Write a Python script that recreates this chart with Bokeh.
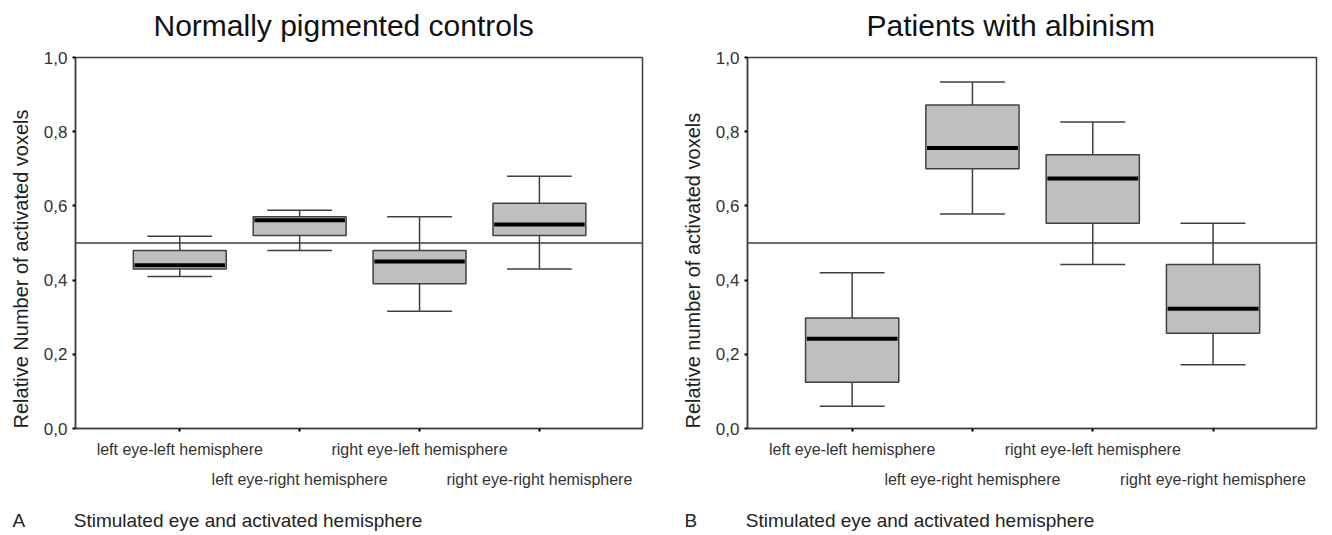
from bokeh.plotting import figure
from bokeh.models import Span, FixedTicker, Title
from bokeh.layouts import row
from bokeh.embed import file_html
from bokeh.resources import INLINE

# ---- data ----
categories = ["left eye-left hemisphere", "left eye-right hemisphere",
              "right eye-left hemisphere", "right eye-right hemisphere"]
positions = [1, 2, 3, 4]
yticks = [0.0, 0.2, 0.4, 0.6, 0.8, 1.0]
ytick_labels = ["0,0", "0,2", "0,4", "0,6", "0,8", "1,0"]

# Normally pigmented controls
ctrl_lower = [0.41, 0.48, 0.316, 0.43]
ctrl_q1 = [0.43, 0.52, 0.39, 0.52]
ctrl_median = [0.44, 0.561, 0.45, 0.55]
ctrl_q3 = [0.48, 0.571, 0.48, 0.607]
ctrl_upper = [0.518, 0.588, 0.571, 0.68]

# Patients with albinism
alb_lower = [0.06, 0.578, 0.442, 0.172]
alb_q1 = [0.125, 0.70, 0.553, 0.257]
alb_median = [0.242, 0.756, 0.674, 0.323]
alb_q3 = [0.298, 0.872, 0.738, 0.442]
alb_upper = [0.42, 0.934, 0.826, 0.553]

reference_level = 0.5

FONT = "Liberation Sans"
EDGE = "#404040"
FILL = "#bfbfbf"
BOX_W = 0.775
CAP_W = 0.54
GAP = "\u2003\u2003\u00a0\u00a0"


def make_panel(title, ylabel, letter, lower, q1, med, q3, upper,
               width, border_left, border_right, title_offset):
    p = figure(width=width, height=535, x_range=(0.13, 4.86), y_range=(0, 1),
               output_backend="svg", toolbar_location=None,
               min_border_left=border_left, min_border_right=border_right,
               min_border_top=57, min_border_bottom=107)
    p.grid.visible = False
    p.outline_line_color = EDGE
    p.outline_line_width = 1.5
    p.background_fill_color = "white"
    p.border_fill_color = "white"

    # main title (trailing empty line keeps it clear of the frame)
    p.title.text = title + "\n"
    p.title.align = "left"
    p.title.offset = title_offset
    p.title.vertical_align = "top"
    p.title.text_font = FONT
    p.title.text_font_size = "30px"
    p.title.text_font_style = "normal"
    p.title.text_line_height = 0.42
    p.title.text_color = "#111111"
    p.title.standoff = 0

    # y axis
    ya = p.yaxis[0]
    ya.ticker = FixedTicker(ticks=yticks)
    ya.major_label_overrides = {t: l for t, l in zip(yticks, ytick_labels)}
    ya.major_label_text_font = FONT
    ya.major_label_text_font_size = "17px"
    ya.major_label_text_color = "#333333"
    ya.major_label_standoff = 5
    ya.axis_line_color = EDGE
    ya.axis_line_width = 1.5
    ya.major_tick_in = 0
    ya.major_tick_out = 3
    ya.major_tick_line_width = 2
    ya.major_tick_line_color = "black"
    ya.minor_tick_line_color = None

    # x axis
    xa = p.xaxis[0]
    xa.ticker = FixedTicker(ticks=positions)
    overrides = {}
    for i, (pos, cat) in enumerate(zip(positions, categories)):
        overrides[pos] = cat if i % 2 == 0 else "\n" + cat
    xa.major_label_overrides = overrides
    xa.major_label_text_font = FONT
    xa.major_label_text_font_size = "16px"
    xa.major_label_text_color = "#333333"
    xa.major_label_text_line_height = 1.8
    xa.major_label_standoff = 9
    xa.axis_line_color = EDGE
    xa.axis_line_width = 1.5
    xa.major_tick_in = 0
    xa.major_tick_out = 3
    xa.major_tick_line_width = 2
    xa.major_tick_line_color = "black"
    xa.minor_tick_line_color = None

    # y label (starts at the bottom of the frame)
    p.add_layout(Title(text=ylabel, align="left", vertical_align="top",
                       text_font=FONT, text_font_size="20px",
                       text_font_style="normal", text_color="#222222",
                       standoff=14), "left")
    # panel letter + x label (leading empty line acts as spacing)
    p.add_layout(Title(text="\n" + letter + GAP + "Stimulated eye and activated hemisphere",
                       align="left", offset=-63, text_font=FONT,
                       text_font_size="19px", text_font_style="normal",
                       text_line_height=0.8, text_color="#222222",
                       standoff=0), "below")

    # reference line
    p.add_layout(Span(location=reference_level, dimension="width",
                      line_color=EDGE, line_width=1.3))

    # whiskers
    p.segment(x0=positions, y0=q3, x1=positions, y1=upper, line_color=EDGE, line_width=1.5)
    p.segment(x0=positions, y0=lower, x1=positions, y1=q1, line_color=EDGE, line_width=1.5)
    # caps
    cap_l = [x - CAP_W / 2 for x in positions]
    cap_r = [x + CAP_W / 2 for x in positions]
    p.segment(x0=cap_l, y0=upper, x1=cap_r, y1=upper, line_color=EDGE, line_width=1.5)
    p.segment(x0=cap_l, y0=lower, x1=cap_r, y1=lower, line_color=EDGE, line_width=1.5)
    # boxes
    p.vbar(x=positions, width=BOX_W, top=q3, bottom=q1,
           fill_color=FILL, line_color=EDGE, line_width=1.5)
    # medians
    box_l = [x - BOX_W / 2 + 0.01 for x in positions]
    box_r = [x + BOX_W / 2 - 0.01 for x in positions]
    p.segment(x0=box_l, y0=med, x1=box_r, y1=med, line_color="black", line_width=4)
    return p


pA = make_panel("Normally pigmented controls", "Relative Number of activated voxels", "A",
                ctrl_lower, ctrl_q1, ctrl_median, ctrl_q3, ctrl_upper,
                width=672, border_left=75, border_right=30, title_offset=78)
pB = make_panel("Patients with albinism", "Relative number of activated voxels", "B",
                alb_lower, alb_q1, alb_median, alb_q3, alb_upper,
                width=652, border_left=75, border_right=8, title_offset=119)

layout = row(pA, pB)
open("out.html", "w").write(file_html(layout, INLINE))
